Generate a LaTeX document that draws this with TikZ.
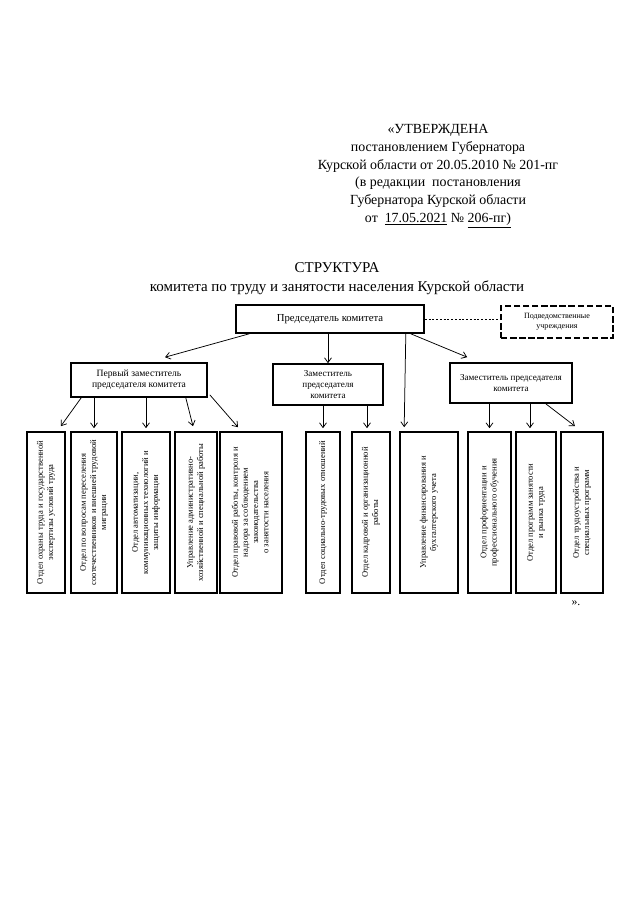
\documentclass[tikz,border=0pt]{standalone}
\usepackage{fontspec}
\setmainfont{Liberation Serif}
\usetikzlibrary{calc,arrows.meta}
% one pixel of the scanned A4 page
\newcommand{\pxu}{0.328125mm}
% text turned to run upwards
\newcommand{\vtext}[1]{\rotatebox{90}{\begin{tabular}{@{}c@{}}#1\end{tabular}}}

\begin{document}
\begin{tikzpicture}[x=0.328125mm,y=-0.328125mm,
    every text node part/.style={align=center},
    box/.style={draw,line width=1.5pt,inner sep=1pt},
    vbox/.style={box,minimum height=161*\pxu,font=\fontsize{8}{9.5}\selectfont},
    arr/.style={-{Straight Barb[length=4.5pt,width=6.5pt]},line width=0.7pt}]

    \useasboundingbox (0,0) rectangle (640,905);

    % --------------------------------------------------------- %
    % ------------- heading
    % --------------------------------------------------------- %
    \node[font=\fontsize{13}{16.7}\selectfont] (approved) at (438,176) {«УТВЕРЖДЕНА\\
      постановлением Губернатора\\
      Курской области от 20.05.2010 № 201-пг\\
      (в редакции~ постановления\\
      Губернатора Курской области\\
      от~ \underline{17.05.2021} № \underline{206-пг)}};
    \node[font=\fontsize{14}{17.5}\selectfont] (title) at (337,279) {СТРУКТУРА\\
      комитета по труду и занятости населения Курской области};

    % --------------------------------------------------------- %
    % ------------- chairman
    % --------------------------------------------------------- %
    \node[box,minimum width=188*\pxu,minimum height=28*\pxu,font=\fontsize{10}{11}\selectfont] (chair) at (330,319) {Председатель комитета};
    % --- subordinate institutions
    \node[draw,line width=1.5pt,dash pattern=on 6pt off 2.5pt,minimum width=112*\pxu,minimum height=32*\pxu,font=\fontsize{7.5}{9}\selectfont] (inst) at (557,322) {Подведомственные\\ учреждения};
    \draw[line width=0.6pt,dash pattern=on 2pt off 1.5pt] (chair.east) -- (inst.west |- chair.east);

    % --------------------------------------------------------- %
    % ------------- deputies
    % --------------------------------------------------------- %
    \node[box,minimum width=136*\pxu,minimum height=34*\pxu,font=\fontsize{9}{10.5}\selectfont] (first) at (139,380) {Первый заместитель\\ председателя комитета};
    \node[box,minimum width=110*\pxu,minimum height=41*\pxu,font=\fontsize{8.5}{10}\selectfont] (second) at (328,384.5) {Заместитель\\ председателя\\ комитета};
    \node[box,minimum width=122*\pxu,minimum height=40*\pxu,font=\fontsize{8.5}{10}\selectfont] (third) at (511,383) {Заместитель председателя\\ комитета};

    % --------------------------------------------------------- %
    % ------------- departments
    % --------------------------------------------------------- %
    \node[vbox,minimum width=38*\pxu] (dep1) at (46,512.5) {\vtext{Отдел охраны труда и государственной\\ экспертизы условий труда}};
    \node[vbox,minimum width=46*\pxu] (dep2) at (94,512.5) {\vtext{Отдел по вопросам переселения\\ соотечественников и внешней трудовой\\ миграции}};
    \node[vbox,minimum width=48*\pxu] (dep3) at (146,512.5) {\vtext{Отдел автоматизации,\\ коммуникационных технологий и\\ защиты информации}};
    \node[vbox,minimum width=42*\pxu] (dep4) at (196,512.5) {\vtext{Управление административно-\\ хозяйственной и специальной работы}};
    \node[vbox,minimum width=62*\pxu] (dep5) at (251,512.5) {\vtext{Отдел правовой работы, контроля и\\ надзора за соблюдением\\ законодательства\\ о занятости населения}};
    \node[vbox,minimum width=34*\pxu] (dep6) at (323,512.5) {\vtext{Отдел социально-трудовых отношений}};
    \node[vbox,minimum width=38*\pxu] (dep7) at (371,512.5) {\vtext{Отдел кадровой и организационной\\ работы}};
    \node[vbox,minimum width=58*\pxu] (dep8) at (429,512.5) {\vtext{Управление финансирования и\\ бухгалтерского учета}};
    \node[vbox,minimum width=43*\pxu] (dep9) at (489.5,512.5) {\vtext{Отдел профориентации и\\ профессионального обучения}};
    \node[vbox,minimum width=40*\pxu] (dep10) at (536,512.5) {\vtext{Отдел программ занятости\\ и рынка труда}};
    \node[vbox,minimum width=42*\pxu] (dep11) at (582,512.5) {\vtext{Отдел трудоустройства и\\ специальных программ}};
    \node[font=\fontsize{11}{12}\selectfont] (close) at (576,603) {».};

    % --------------------------------------------------------- %
    % ------------- connectors
    % --------------------------------------------------------- %
    % --- from the chairman
    \draw[arr] ($(chair.south west)+(14,0)$) -- ($(first.north)+(26,-5)$);
    \draw[arr] (chair.south -| second.north) -- (second.north);
    \draw[arr] ($(chair.south east)+(-19,0)$) -- ($(dep8.north west)+(5,-4)$);
    \draw[arr] ($(chair.south east)+(-14,0)$) -- ($(third.north west)+(18,-5)$);
    % --- from the first deputy
    \draw[arr] ($(first.south west)+(11,0)$) -- ($(dep1.north east)+(-5,-5)$);
    \draw[arr] (dep2.north |- first.south) -- ($(dep2.north)+(0,-3)$);
    \draw[arr] (dep3.north |- first.south) -- ($(dep3.north)+(0,-3)$);
    \draw[arr] ($(first.south east)+(-22,0)$) -- ($(dep4.north)+(-3,-5)$);
    \draw[arr] ($(first.south east)+(2,-3)$) -- ($(dep5.north)+(-13,-4)$);
    % --- from the deputies
    \draw[arr] (dep6.north |- second.south) -- ($(dep6.north)+(0,-3)$);
    \draw[arr] ($(second.south)+(39,0)$) -- ($(dep7.north)+(-4,-3)$);
    \draw[arr] (dep9.north |- third.south) -- ($(dep9.north)+(0,-3)$);
    \draw[arr] ($(third.south)+(19,0)$) -- ($(dep10.north)+(-6,-3)$);
    \draw[arr] ($(third.south east)+(-27,0)$) -- ($(dep11.north)+(-7,-5)$);

\end{tikzpicture}
\end{document}
